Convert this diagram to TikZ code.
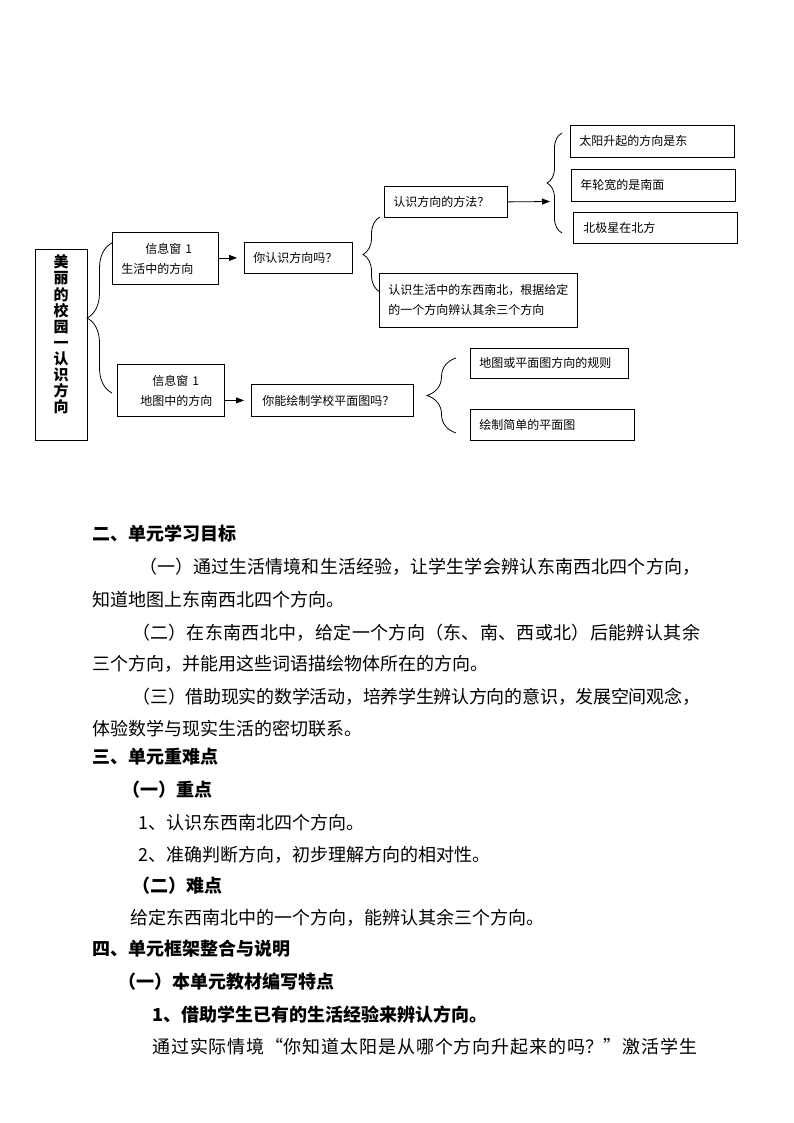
\documentclass[tikz,border=0pt]{standalone}
\usepackage{fontspec}
\setmainfont{Noto Sans CJK SC}
\usetikzlibrary{arrows.meta,decorations.pathreplacing}
\XeTeXlinebreaklocale "zh"
\XeTeXlinebreakskip=0pt plus 3pt minus 1pt
\newcommand\fillline[2]{\parbox[t]{#1}{\parfillskip=0pt #2}}

\begin{document}
\begin{tikzpicture}[
    x=1pt, y=-1pt,
    box/.style={draw, line width=0.8pt, anchor=north west, inner xsep=9pt, inner ysep=0pt, align=left, font=\fontsize{12}{20}\selectfont},
    curly/.style={decorate, decoration={brace, amplitude=#1}, line width=0.8pt},
    arrow/.style={-{Triangle[length=8pt, width=6pt]}, line width=0.8pt},
    txt/.style={anchor=west, inner sep=0pt, text height=15.8pt, text depth=2.2pt, font=\fontsize{18}{18}\selectfont},
    head/.style={txt, font=\fontsize{18}{18}\selectfont\bfseries}
]
\useasboundingbox (0,0) rectangle (794,1123);

% Unit box on the left
\node[draw, line width=0.8pt, anchor=north west, minimum width=52pt, minimum height=191pt, inner sep=0pt] (unit) at (35,249) {};
\node[align=center, inner sep=0pt, font=\fontsize{15}{16.1}\selectfont\bfseries] (unittxt) at (61,334.5) {美\\丽\\的\\校\\园\\一\\认\\识\\方\\向};

% First branch: directions in daily life
\node[box, text width=88pt, minimum height=52pt] (win1) at (112,232) {\hspace{24pt}信息窗 1\\生活中的方向};
\node[box, text width=90pt, minimum height=31pt] (ask1) at (244,242) {你认识方向吗？};
\node[box, text width=105pt, minimum height=31pt] (way) at (384,186) {认识方向的方法？};
\node[box, text width=180pt, minimum height=54pt] (know) at (379,273) {认识生活中的东西南北，根据给定\\的一个方向辨认其余三个方向};
\node[box, text width=146pt, minimum height=32pt] (sun) at (570,125) {太阳升起的方向是东};
\node[box, text width=146pt, minimum height=32pt] (tree) at (571,169) {年轮宽的是南面};
\node[box, text width=146pt, minimum height=31pt] (star) at (573,212) {\hspace{1pt}北极星在北方};

% Second branch: directions on a map
\node[box, text width=89pt, minimum height=52pt] (win2) at (117,364) {\hspace{26pt}信息窗 1\\\hspace{14pt}地图中的方向};
\node[box, text width=144pt, minimum height=32pt] (ask2) at (251,384) {\hspace{2pt}你能绘制学校平面图吗？};
\node[box, text width=140pt, minimum height=30pt] (rule) at (470,348) {地图或平面图方向的规则};
\node[box, text width=146pt, minimum height=31pt] (plan) at (470,409) {绘制简单的平面图};

% Brace ends
\coordinate (c0t) at (112,243); \coordinate (c0b) at (112,393);
\coordinate (c1t) at (380,217); \coordinate (c1b) at (380,292);
\coordinate (c2t) at (562,133); \coordinate (c2b) at (562,233);
\coordinate (c3t) at (456,358); \coordinate (c3b) at (456,433);
\coordinate (c2in) at (550,201.5);

\draw[curly=25pt] (c0b) -- (c0t);
\draw[curly=17pt] (c1b) -- (c1t);
\draw[curly=15pt] (c2b) -- (c2t);
\draw[curly=29pt] (c3b) -- (c3t);

% Arrows
\draw[arrow, shorten >=7pt] (win1.east |- ask1.west) -- (ask1.west);
\draw[arrow] (way.east) -- (c2in);
\draw[arrow, shorten >=7pt] (win2.east |- ask2.west) -- (ask2.west);

% Text below the chart
\node[head] (t1) at (92,534) {二、单元学习目标};
\node[txt] (t2) at (139,567) {\fillline{561pt}{（一）通过生活情境和生活经验，让学生学会辨认东南西北四个方向，}};
\node[txt] (t3) at (92,600) {知道地图上东南西北四个方向。};
\node[txt] (t4) at (132,633) {\fillline{568pt}{（二）在东南西北中，给定一个方向（东、南、西或北）后能辨认其余}};
\node[txt] (t5) at (92,664) {三个方向，并能用这些词语描绘物体所在的方向。};
\node[txt] (t6) at (132,697) {\fillline{568pt}{（三）借助现实的数学活动，培养学生辨认方向的意识，发展空间观念，}};
\node[txt] (t7) at (92,729) {体验数学与现实生活的密切联系。};
\node[head] (t8) at (92,757) {三、单元重难点};
\node[head] (t9) at (122,790) {（一）重点};
\node[txt] (t10) at (138,823) {1、认识东西南北四个方向。};
\node[txt] (t11) at (138,855) {2、准确判断方向，初步理解方向的相对性。};
\node[head] (t12) at (132,886) {（二）难点};
\node[txt] (t13) at (130,918) {给定东西南北中的一个方向，能辨认其余三个方向。};
\node[head] (t14) at (92,949) {四、单元框架整合与说明};
\node[head] (t15) at (118,982) {（一）本单元教材编写特点};
\node[head] (t16) at (152,1015) {1、借助学生已有的生活经验来辨认方向。};
\node[txt] (t17) at (152,1047) {\fillline{545pt}{通过实际情境“你知道太阳是从哪个方向升起来的吗？”激活学生}};

\end{tikzpicture}
\end{document}
